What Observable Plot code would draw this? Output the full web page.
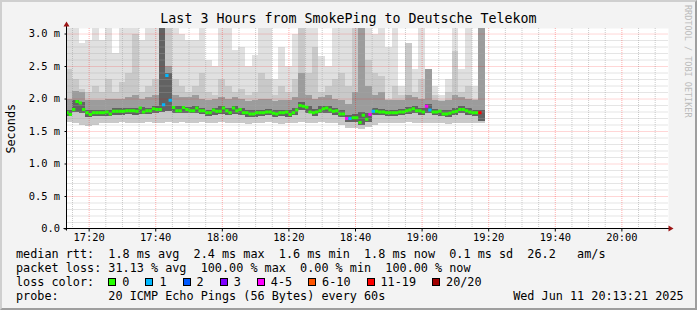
<!DOCTYPE html>
<html>
<head>
<meta charset="utf-8">
<script src="https://cdn.jsdelivr.net/npm/d3@7"></script>
<script src="https://cdn.jsdelivr.net/npm/@observablehq/plot@0.6"></script>
<style>
html, body { margin:0; padding:0; background:#f3f3f3; }
#wrap { position:relative; width:697px; height:310px; overflow:hidden; background:#f3f3f3; font-family:"DejaVu Sans Mono", monospace; color:#000; }
#frame { position:absolute; left:0; top:0; width:697px; height:310px; box-sizing:border-box; border:2px solid; border-color:#cfcfcf #9e9e9e #9e9e9e #cfcfcf; pointer-events:none; }
#chart { position:absolute; left:0; top:0; }
#title { position:absolute; left:0; top:11.4px; width:697px; text-align:center; font-size:13.3px; line-height:16px; white-space:pre; }
.row { position:absolute; left:16px; font-size:11.8px; line-height:14px; white-space:pre; }
.box { display:inline-block; width:8px; height:8px; box-sizing:border-box; border:1px solid #000; margin-right:6px; vertical-align:baseline; }
.lbl { margin-right:16px; }
#wm { position:absolute; left:683px; top:5px; writing-mode:vertical-rl; font-size:8.5px; line-height:9px; color:#bbbbbb; white-space:pre; }
</style>
</head>
<body>
<div id="wrap">
  <div id="chart"></div>
  <div id="title"></div>
  <div id="wm"></div>
  <div class="row" id="r1" style="top:247px"></div>
  <div class="row" id="r2" style="top:261px"></div>
  <div class="row" id="r3" style="top:275px"></div>
  <div class="row" id="r4" style="top:289px"></div>
  <div id="frame"></div>
</div>
<script>
// ---------- data ----------
const titleText = "Last 3 Hours from SmokePing to Deutsche Telekom";
const yAxisTitle = "Seconds";
const watermark = "RRDTOOL / TOBI OETIKER";
const day = "2025-06-11";
const graphStart = "17:13:21";
const graphEnd = "20:14:00";

const xTickLabels = ["17:20","17:40","18:00","18:20","18:40","19:00","19:20","19:40","20:00"];
const yTickValues = [0, 0.5, 1, 1.5, 2, 2.5, 3];
const yTickLabels = ["0.0","0.5 m","1.0 m","1.5 m","2.0 m","2.5 m","3.0 m"];
const yMinorValues = [0.1,0.2,0.3,0.4,0.6,0.7,0.8,0.9,1.1,1.2,1.3,1.4,1.6,1.7,1.8,1.9,2.1,2.2,2.3,2.4,2.6,2.7,2.8,2.9];

// median RTT (ms), one value per minute from 17:13
const medianStart = "17:13";
const medianRtt = [
 1.79,1.76,1.84,1.96,1.94,1.84,1.79,1.76,1.79,1.79,
 1.79,1.79,1.80,1.77,1.81,1.81,1.81,1.81,1.82,1.82,
 1.82,1.81,1.86,1.80,1.82,1.82,1.85,1.84,1.84,1.91,
 2.36,1.98,1.87,1.82,1.82,1.87,1.84,1.82,1.82,1.86,
 1.82,1.82,1.79,1.79,1.83,1.81,1.81,1.86,1.82,1.79,
 1.86,1.82,1.84,1.79,1.79,1.77,1.77,1.79,1.79,1.79,
 1.80,1.80,1.78,1.77,1.79,1.79,1.80,1.76,1.79,1.83,
 1.90,1.89,1.875,1.80,1.79,1.80,1.82,1.85,1.86,1.83,
 1.81,1.82,1.77,1.77,1.70,1.70,1.71,1.71,1.64,1.75,
 1.69,1.76,1.81,1.81,1.80,1.80,1.79,1.79,1.79,1.79,
 1.80,1.80,1.82,1.83,1.85,1.82,1.82,1.80,1.89,1.83,
 1.80,1.80,1.81,1.77,1.77,1.78,1.80,1.81,1.84,1.84,
 1.82,1.80,1.79,1.79,1.79];
// lost pings (of 20) per minute
const lossCount = [
 0,0,0,0,0,0,0,0,0,0,
 0,0,0,0,0,0,0,0,0,0,
 0,0,0,0,0,0,0,0,0,1,
 1,1,0,0,0,0,0,0,0,0,
 0,0,0,0,0,0,0,0,0,0,
 0,0,0,0,0,0,0,0,0,0,
 0,0,0,0,0,0,0,0,0,0,
 0,0,0,0,0,0,0,0,0,0,
 0,0,0,0,4,1,0,0,0,0,
 0,4,1,0,0,0,0,0,0,0,
 0,0,0,0,0,0,0,0,4,1,
 0,0,0,0,0,0,0,0,0,0,
 0,0,0,0,12];

// smoke (ping distribution), one column per 2 minutes from 17:13
const smokeStart = "17:13";
const smokeMin = [
 1.64,1.62,1.60,1.58,1.60,1.62,1.63,1.62,1.64,1.63,
 1.62,1.63,1.64,1.63,1.62,1.64,1.63,1.64,1.62,1.63,
 1.64,1.62,1.63,1.64,1.62,1.63,1.62,1.61,1.63,1.62,
 1.64,1.62,1.61,1.63,1.62,1.64,1.63,1.62,1.64,1.63,
 1.62,1.60,1.55,1.54,1.53,1.56,1.60,1.62,1.63,1.62,
 1.63,1.64,1.62,1.63,1.62,1.63,1.62,1.61,1.63,1.62,
 1.63,1.62,1.63];
const smokeLo = [
 1.73,1.79,1.77,1.72,1.73,1.73,1.73,1.75,1.75,1.76,
 1.75,1.76,1.76,1.78,1.79,1.81,1.78,1.78,1.77,1.77,
 1.76,1.73,1.75,1.76,1.74,1.76,1.74,1.72,1.72,1.73,
 1.74,1.71,1.73,1.72,1.74,1.82,1.77,1.73,1.77,1.78,
 1.75,1.71,1.64,1.64,1.59,1.64,1.75,1.74,1.73,1.73,
 1.74,1.76,1.77,1.75,1.78,1.74,1.73,1.72,1.74,1.78,
 1.75,1.73,1.65];
const smokeDk = [
 1.83,1.97,1.94,1.82,1.83,1.83,1.83,1.85,1.85,1.86,
 1.85,1.87,1.86,1.89,3.5,2.4,1.89,1.89,1.87,1.88,
 1.86,1.83,1.86,1.88,1.85,1.88,1.85,1.82,1.82,1.83,
 1.84,1.82,1.83,1.82,1.85,1.94,1.88,1.84,1.88,1.89,
 1.86,1.82,1.75,1.76,1.80,1.78,1.85,1.84,1.83,1.83,
 1.84,1.87,1.88,1.85,1.91,1.84,1.83,1.82,1.85,1.88,
 1.85,1.83,1.83];
const smokeHi = [
 2.0,2.12,2.1,1.98,1.97,1.98,2.0,1.99,2.0,2.02,
 2.05,2.0,2.02,2.05,3.5,2.5,2.05,2.03,2.02,2.05,
 2.0,1.97,2.0,2.03,2.0,2.02,2.0,1.96,1.97,2.0,
 2.0,1.96,1.98,1.97,2.02,2.4,2.05,2.0,2.03,2.05,
 2.0,1.98,1.92,2.1,3.5,2.2,2.05,2.1,1.97,1.98,
 1.98,2.05,2.02,2.0,2.46,1.98,1.96,1.97,2.05,2.02,
 2.0,1.97,3.5];
const smokeMid = [
 2.45,2.3,2.15,2.1,2.2,2.1,2.3,2.1,2.25,2.4,
 3.0,2.1,2.2,2.3,3.5,3.5,2.3,2.2,2.1,2.2,
 2.4,2.1,2.05,2.3,2.2,2.1,2.15,2.05,2.1,2.4,
 2.3,2.05,2.2,2.1,2.3,3.5,2.4,2.8,2.1,2.2,
 2.3,2.4,2.2,3.5,3.5,2.6,2.4,2.35,2.0,2.2,
 2.05,2.85,2.1,2.3,2.46,2.05,1.98,2.1,2.73,2.1,
 2.2,2.0,3.5];
const smokeTop = [
 3.5,3.5,2.86,2.9,3.5,2.9,3.5,2.7,3.5,3.5,
 3.5,2.9,3.2,3.5,3.5,3.5,3.5,3.0,2.9,2.9,
 3.5,2.6,2.5,3.5,3.5,2.75,2.8,2.5,2.67,3.5,
 3.5,2.3,2.8,2.5,3.0,3.5,3.5,3.5,2.66,2.5,
 3.5,3.5,3.5,3.5,3.5,3.5,3.0,3.5,2.8,3.5,
 2.2,2.85,2.45,3.5,2.46,2.2,2.05,2.3,3.5,2.45,
 3.5,2.2,3.5];

const lossLabels = ["0","1","2","3","4-5","6-10","11-19","20/20"];
const lossMax = [0, 1, 2, 3, 5, 10, 19, 20];
const lossColors = ["#26ff00","#00b8ff","#0059ff","#7e00ff","#ff00ff","#ff5500","#ff0000","#a10000"];

const legendRtt = "median rtt:  1.8 ms avg  2.4 ms max  1.6 ms min  1.8 ms now  0.1 ms sd  26.2   am/s";
const legendLoss = "packet loss: 31.13 % avg  100.00 % max  0.00 % min  100.00 % now";
const legendLossTitle = "loss color:  ";
const legendProbe = "probe:       20 ICMP Echo Pings (56 Bytes) every 60s                  Wed Jun 11 20:13:21 2025";

// ---------- build ----------
const at = s => new Date(`${day}T${s.length === 5 ? s + ":00" : s}Z`);
const colorFor = n => lossColors[lossMax.findIndex(m => n <= m)];

const medRows = medianRtt.map((v, i) => ({
  t: d3.utcMinute.offset(at(medianStart), i),
  t2: d3.utcMinute.offset(at(medianStart), i + 1),
  median: v,
  color: colorFor(lossCount[i])
}));
const smokeRows = smokeTop.map((v, k) => ({
  t: d3.utcMinute.offset(at(smokeStart), 2 * k),
  t2: d3.utcMinute.offset(at(smokeStart), 2 * k + 2),
  min: smokeMin[k], lo: smokeLo[k], dk: smokeDk[k], hi: smokeHi[k], mid: smokeMid[k], top: v
}));

const xStart = at(graphStart), xEnd = at(graphEnd);
const xMajor = xTickLabels.map(at);
const xMinor = d3.utcMinute.every(5).range(xStart, xEnd).filter(d => d.getUTCMinutes() % 20 !== 0);

const W = 697, H = 250, ML = 66.5, MR = 29, MT = 28, MB = 21.5;
const rectOpts = {x1: "t", x2: "t2", clip: true, shapeRendering: "crispEdges"};

const svg = Plot.plot({
  width: W, height: H,
  marginLeft: ML, marginRight: MR, marginTop: MT, marginBottom: MB,
  style: {background: "transparent", fontFamily: "'DejaVu Sans Mono', monospace", fontSize: "10.4px", color: "#000", overflow: "visible"},
  x: {type: "utc", domain: [xStart, xEnd]},
  y: {domain: [0, 3.085]},
  color: {type: "identity"},
  marks: [
    Plot.frame({fill: "#ffffff", stroke: "none"}),
    Plot.rect(smokeRows, {...rectOpts, y1: "min", y2: "top", fill: "#e0e0e0"}),
    Plot.rect(smokeRows, {...rectOpts, y1: "min", y2: "mid", fill: "#c9c9c9"}),
    Plot.rect(smokeRows, {...rectOpts, y1: "lo", y2: "hi", fill: "#9c9c9c"}),
    Plot.rect(smokeRows, {...rectOpts, y1: "lo", y2: "dk", fill: "#626262"}),
    Plot.gridY(yMinorValues, {stroke: "#a8a8a8", strokeOpacity: 0.6, strokeDasharray: "1,1"}),
    Plot.gridX(xMinor, {stroke: "#a8a8a8", strokeOpacity: 0.6, strokeDasharray: "1,1"}),
    Plot.gridY(yTickValues.slice(1), {stroke: "#ff0000", strokeOpacity: 0.32, strokeDasharray: "1,1"}),
    Plot.gridX(xMajor, {stroke: "#ff0000", strokeOpacity: 0.32, strokeDasharray: "1,1"}),
    Plot.ruleY(medRows, {y: "median", x1: "t", x2: "t2", stroke: "color", strokeWidth: 3, clip: true}),
    Plot.axisY(yTickValues, {tickFormat: d => yTickLabels[yTickValues.indexOf(d)], tickSize: 2, tickPadding: 5, label: null}),
    Plot.axisX(xMajor, {tickFormat: d => xTickLabels[xMajor.findIndex(t => +t === +d)], tickSize: 3, tickPadding: 2, label: null}),
    Plot.text([yAxisTitle], {frameAnchor: "left", rotate: -90, dx: -55.5, fontSize: 11.8, textAnchor: "middle", lineAnchor: "middle"})
  ]
});

// axis lines with arrows
const s = d3.select(svg);
const B = H - MB, R = W - MR;
s.append("line").attr("x1", ML).attr("x2", ML).attr("y1", B + 2).attr("y2", MT - 2).attr("stroke", "#000");
s.append("line").attr("x1", ML - 3).attr("x2", R + 1).attr("y1", B).attr("y2", B).attr("stroke", "#000");
s.append("path").attr("d", `M${ML},${MT - 6.5}L${ML - 3},${MT - 1.5}L${ML + 3},${MT - 1.5}Z`).attr("fill", "#9c1414");
s.append("path").attr("d", `M${R + 5.5},${B}L${R + 0.5},${B - 3}L${R + 0.5},${B + 3}Z`).attr("fill", "#9c1414");

document.getElementById("chart").appendChild(svg);
document.getElementById("title").textContent = titleText;
document.getElementById("wm").textContent = watermark;
document.getElementById("r1").textContent = legendRtt;
document.getElementById("r2").textContent = legendLoss;
document.getElementById("r4").textContent = legendProbe;
const r3 = document.getElementById("r3");
r3.appendChild(document.createTextNode(legendLossTitle));
lossLabels.forEach((lab, i) => {
  const b = document.createElement("span");
  b.className = "box";
  b.style.background = lossColors[i];
  r3.appendChild(b);
  const l = document.createElement("span");
  l.className = "lbl";
  l.textContent = lab;
  r3.appendChild(l);
});
</script>
</body>
</html>
